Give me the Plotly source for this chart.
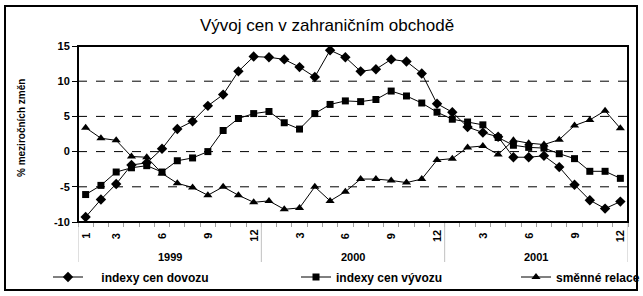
import plotly.graph_objects as go

months = list(range(1, 37))
dovoz = [-9.3, -6.8, -4.6, -1.9, -1.6, 0.4, 3.2, 4.3, 6.5, 8.1, 11.4, 13.5,
         13.4, 13.1, 12.0, 10.6, 14.4, 13.4, 11.4, 11.7, 13.1, 12.8, 11.1, 6.8,
         5.6, 3.5, 2.7, 2.1, -0.8, -0.8, -0.6, -2.2, -4.7, -6.9, -8.1, -7.1]
vyvoz = [-6.1, -4.8, -2.9, -2.3, -2.0, -2.9, -1.3, -0.9, 0.0, 3.0, 4.7, 5.4,
         5.7, 4.1, 3.2, 5.4, 6.7, 7.2, 7.1, 7.4, 8.6, 7.9, 6.9, 5.6,
         4.6, 4.2, 3.8, 2.0, 0.9, 0.6, 0.5, -0.3, -1.0, -2.8, -2.8, -3.8]
relace = [3.4, 1.9, 1.6, -0.7, -0.8, -3.1, -4.5, -5.1, -6.2, -5.0, -6.2, -7.2,
          -7.0, -8.2, -8.0, -5.0, -7.0, -5.7, -3.9, -3.9, -4.1, -4.4, -3.9, -1.2,
          -1.0, 0.6, 0.8, -0.4, 1.6, 1.2, 1.0, 1.7, 3.7, 4.5, 5.8, 3.3]

month_label_pos = [1, 3, 6, 9, 12, 15, 18, 21, 24, 27, 30, 33, 36]
month_label_txt = ["1", "3", "6", "9", "12", "3", "6", "9", "12", "3", "6", "9", "12"]
years = ["1999", "2000", "2001"]
year_centers = [6.5, 18.5, 30.5]
year_bounds = [0.5, 12.5, 24.5, 36.5]
y_ticks = [-10, -5, 0, 5, 10, 15]

FONT = "Liberation Sans Narrow, Liberation Sans, Arial"

fig = go.Figure()
series = [
    ("indexy cen dovozu", dovoz, "diamond", 8, "legend"),
    ("indexy cen vývozu", vyvoz, "square", 7, "legend2"),
    ("směnné relace", relace, "triangle-up", 8, "legend3"),
]
for name, vals, sym, sz, lg in series:
    fig.add_trace(go.Scatter(
        x=months, y=vals, mode="lines+markers", name="<b>%s</b>" % name,
        line=dict(color="black", width=1),
        marker=dict(symbol=sym, size=sz, color="black"),
        legend=lg,
    ))

W, H = 643, 296
L, R, T, B = 78, 15, 46, 74
pw = W - L - R
ph = H - T - B

def px(xp):
    return (xp - L) / pw

def py(yp):
    return (H - B - yp) / ph

shapes = []
for v in [-5, 0, 5, 10]:
    shapes.append(dict(type="line", xref="paper", yref="y", x0=0, x1=1, y0=v, y1=v,
                       line=dict(color="black", width=1, dash="dash"), layer="below"))
for b in year_bounds:
    shapes.append(dict(type="line", xref="x", yref="paper", x0=b, x1=b, y0=0, y1=py(262),
                       line=dict(color="#c0c0c0", width=1)))
shapes.append(dict(type="rect", xref="paper", yref="paper", x0=0, x1=1, y0=0, y1=1,
                   line=dict(color="black", width=2)))
shapes.append(dict(type="rect", xref="paper", yref="paper", x0=px(5), x1=px(637),
                   y0=py(290), y1=py(6), line=dict(color="black", width=2)))

annotations = []
for p, t in zip(month_label_pos, month_label_txt):
    annotations.append(dict(x=p, y=py(236), xref="x", yref="paper", text="<b>%s</b>" % t,
                            showarrow=False, textangle=-90,
                            font=dict(family=FONT, size=11, color="black"),
                            xanchor="center", yanchor="middle"))
for c, t in zip(year_centers, years):
    annotations.append(dict(x=c, y=py(257), xref="x", yref="paper", text="<b>%s</b>" % t,
                            showarrow=False, font=dict(family=FONT, size=11, color="black"),
                            xanchor="center", yanchor="middle"))
annotations.append(dict(x=px(21), y=py(128), xref="paper", yref="paper",
                        text="<b>% meziročních změn</b>", showarrow=False, textangle=-90,
                        font=dict(family=FONT, size=10, color="black"),
                        xanchor="center", yanchor="middle"))

legfont = dict(family=FONT, size=12, color="black")
fig.update_layout(
    width=W, height=H,
    margin=dict(l=L, r=R, t=T, b=B, autoexpand=False),
    paper_bgcolor="white", plot_bgcolor="white",
    title=dict(text="Vývoj cen v zahraničním obchodě", x=327 / W, xanchor="center",
               y=1 - 25 / H, yanchor="middle",
               font=dict(family="Liberation Sans, Arial", size=17, color="black")),
    xaxis=dict(range=[0.5, 36.5], tickvals=[i + 0.5 for i in range(0, 37)],
               ticks="outside", ticklen=4, tickcolor="#a0a0a0", showticklabels=False,
               showgrid=False, zeroline=False, showline=False),
    yaxis=dict(range=[-10, 15], tickvals=y_ticks, ticktext=["<b>%d</b>" % v for v in y_ticks],
               ticks="outside", ticklen=5, tickcolor="black",
               tickfont=dict(family=FONT, size=11, color="black"), showgrid=False,
               zeroline=False, showline=False),
    showlegend=True,
    legend=dict(x=px(48), y=py(277), xanchor="left", yanchor="middle",
                font=legfont, bgcolor="rgba(0,0,0,0)", itemwidth=30),
    legend2=dict(x=px(296), y=py(277), xanchor="left", yanchor="middle",
                 font=legfont, bgcolor="rgba(0,0,0,0)", itemwidth=30),
    legend3=dict(x=px(516), y=py(277), xanchor="left", yanchor="middle",
                 font=legfont, bgcolor="rgba(0,0,0,0)", itemwidth=30),
    shapes=shapes,
    annotations=annotations,
)
fig.data[0].name = "<b>    indexy cen dovozu</b>"
fig.write_html("out.html")
